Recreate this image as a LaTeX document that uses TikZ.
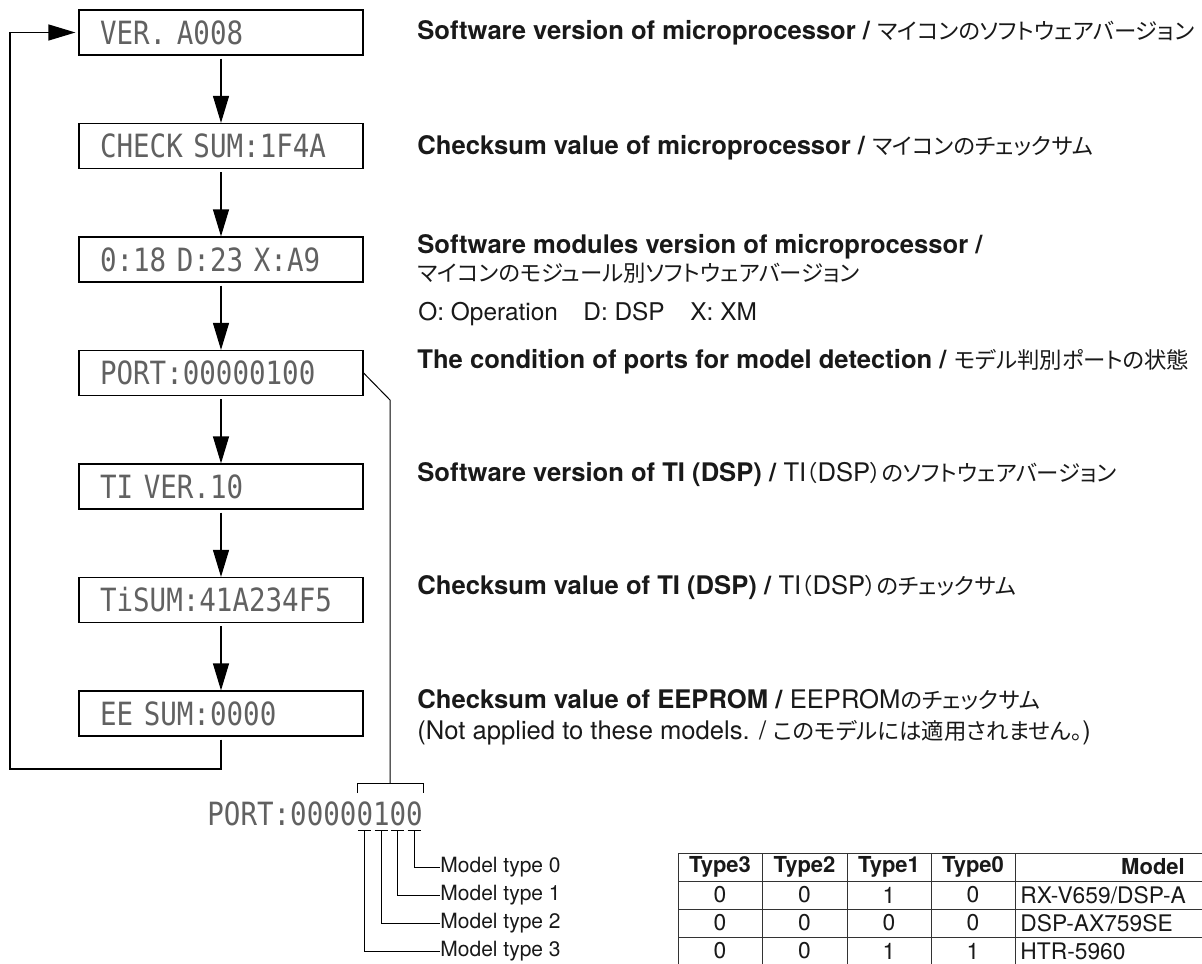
\documentclass[tikz,border=0pt]{standalone}
\usepackage{fontspec}
\setmainfont{TeX Gyre Heros}
\newfontfamily\jpfam[RawFeature=+palt]{Noto Sans CJK JP}
\newfontfamily\lcdfam[FakeStretch=0.86]{DejaVu Sans Mono}
\newcommand\lcdfont{\lcdfam\fontsize{16}{18}\selectfont}
\newcommand\jtext[1]{{\jpfam\fontsize{11.2}{15}\selectfont #1}}
\usetikzlibrary{arrows.meta}
\begin{document}
\begin{tikzpicture}[x=0.5pt,y=-0.5pt,
  lcdbox/.style={draw, line width=0.6pt, minimum width=142pt, minimum height=22.5pt,
    text width=121pt, align=left, inner xsep=10.5pt, inner ysep=0pt, font=\lcdfont, text=black!62},
  flow/.style={line width=0.6pt, -{Triangle[length=13.5pt,width=8pt]}, shorten <=1.5pt},
  thinln/.style={line width=0.5pt},
  desc/.style={anchor=base west, inner sep=0pt, font=\fontsize{12.8}{15}\selectfont, text=black!90},
  descr/.style={desc, font=\fontsize{12.2}{15}\selectfont},
  lbl/.style={anchor=west, inner sep=0pt, font=\fontsize{10.5}{12}\selectfont, text=black!90},
  cell/.style={inner sep=0pt, font=\fontsize{11.4}{13}\selectfont, text=black!90},
  hcell/.style={inner sep=0pt, font=\fontsize{11}{13}\selectfont\bfseries, text=black!90},
  tbl/.style={line width=0.5pt, draw=black!80}
]
\clip (0,0) rectangle (1202,963);
\fill[white] (0,0) rectangle (1202,963);

% LCD boxes
\node[lcdbox] (b1) at (221,32.5)  {VER. A008};
\node[lcdbox] (b2) at (221,146)   {CHECK SUM:1F4A};
\node[lcdbox] (b3) at (221,259.5) {0:18 D:23 X:A9};
\node[lcdbox] (b4) at (221,373)   {PORT:00000100};
\node[lcdbox] (b5) at (221,486.5) {TI VER.10};
\node[lcdbox] (b6) at (221,600)   {TiSUM:41A234F5};
\node[lcdbox] (b7) at (221,713.5) {EE SUM:0000};

\draw[flow] (b1) -- (b2);
\draw[flow] (b2) -- (b3);
\draw[flow] (b3) -- (b4);
\draw[flow] (b4) -- (b5);
\draw[flow] (b5) -- (b6);
\draw[flow] (b6) -- (b7);

% loop back
\coordinate (lb) at (221,769);
\coordinate (ll) at (10,769);
\coordinate (lt) at (ll |- b1.west);
\draw[line width=0.6pt, -{Triangle[length=13.5pt,width=8pt]}, shorten <=1.5pt, shorten >=1.5pt]
  (b7.south) -- (lb) -- (ll) -- (lt) -- (b1.west);

% descriptions
\node[desc] (t1) at (417,40) {\textbf{Software version of microprocessor /} \jtext{マイコンのソフトウェアバージョン}};
\node[desc] (t2) at (417,154) {\textbf{Checksum value of microprocessor /} \jtext{マイコンのチェックサム}};
\node[desc] (t3a) at (417,253) {\textbf{Software modules version of microprocessor /}};
\node[desc] (t3b) at (417,281) {\jtext{マイコンのモジュール別ソフトウェアバージョン}};
\node[descr] (t3c) at (418,320) {O: Operation};
\node[descr] (t3d) at (583,320) {D: DSP};
\node[descr] (t3e) at (690,320) {X: XM};
\node[desc] (t4) at (417,368) {\textbf{The condition of ports for model detection /} \jtext{モデル判別ポートの状態}};
\node[desc] (t5) at (417,481) {\textbf{Software version of TI (DSP) /} TI\jtext{（}DSP\jtext{）のソフトウェアバージョン}};
\node[desc] (t6) at (417,594) {\textbf{Checksum value of TI (DSP) /} TI\jtext{（}DSP\jtext{）のチェックサム}};
\node[desc] (t7a) at (417,708) {\textbf{Checksum value of EEPROM /} EEPROM\jtext{のチェックサム}};
\node[desc] (t7b) at (417,739) {(Not applied to these models. / \jtext{このモデルには適用されません。})};

% port detail
\coordinate (d1) at (390,400);
\coordinate (d2) at (390,783);
\draw[thinln] (b4.east) -- (d1) -- (d2);
\draw[thinln] (357,793) -- (357,783) -- (423,783) -- (423,793);
\node[anchor=base west, inner sep=0pt, font=\lcdfont, text=black!62] (port) at (207,825) {PORT:00000100};

\coordinate (p0) at (414.1,830);
\coordinate (p1) at (397.5,830);
\coordinate (p2) at (381.0,830);
\coordinate (p3) at (364.4,830);
\foreach \p in {p0,p1,p2,p3}{
  \draw[thinln] ([xshift=-3.25pt]\p) -- ([xshift=3.25pt]\p);
}
\node[lbl] (m0) at (440,867) {Model type 0};
\node[lbl] (m1) at (440,895) {Model type 1};
\node[lbl] (m2) at (440,923) {Model type 2};
\node[lbl] (m3) at (440,951) {Model type 3};
\draw[thinln] (p0) |- (m0.west);
\draw[thinln] (p1) |- (m1.west);
\draw[thinln] (p2) |- (m2.west);
\draw[thinln] (p3) |- (m3.west);

% table
\draw[tbl] (678,853) rectangle (1291,965);
\foreach \yy in {881,909,937} \draw[tbl] (678,\yy) -- (1291,\yy);
\foreach \xx in {762,847,931,1015} \draw[tbl] (\xx,853) -- (\xx,965);
\node[hcell] (h3) at (720,867) {Type3};
\node[hcell] (h2) at (804.5,867) {Type2};
\node[hcell] (h1) at (889,867) {Type1};
\node[hcell] (h0) at (973,867) {Type0};
\node[hcell] (hm) at (1153,867) {Model};
\foreach \r/\yy/\a/\b/\c/\d/\m in {1/895/0/0/1/0/{RX-V659/DSP-A}, 2/923/0/0/0/0/{DSP-AX759SE}, 3/951/0/0/1/1/{HTR-5960}}{
  \node[cell] (r\r c3) at (720,\yy) {\a};
  \node[cell] (r\r c2) at (804.5,\yy) {\b};
  \node[cell] (r\r c1) at (889,\yy) {\c};
  \node[cell] (r\r c0) at (973,\yy) {\d};
  \node[cell, anchor=west] (r\r m) at (1020,\yy) {\m};
}
\end{tikzpicture}
\end{document}
